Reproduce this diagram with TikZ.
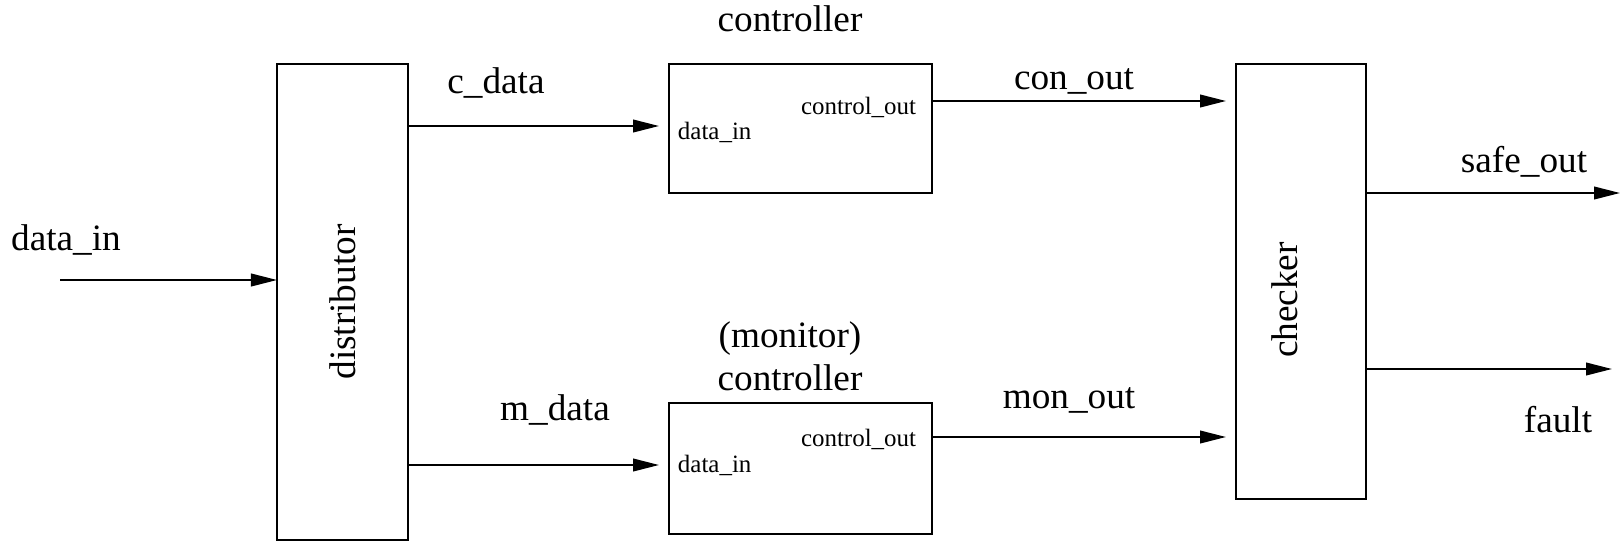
\documentclass[tikz,border=0pt]{standalone}
\usepackage{fontspec}
\newfontfamily\timesfam{Liberation Serif}
\usetikzlibrary{arrows.meta}
\begin{document}
\begin{tikzpicture}[x=0.02cm,y=-0.02cm,
  line width=1.1pt,
  block/.style={draw, line width=1.1pt, inner sep=0pt, outer sep=0pt},
  big/.style={font=\timesfam\fontsize{21.2pt}{24.4pt}\selectfont, inner sep=0pt},
  port/.style={font=\timesfam\fontsize{14.2pt}{17pt}\selectfont, inner sep=0pt},
  sig/.style={-{Triangle[length=14.8pt,width=7.2pt]}}]
\useasboundingbox (0,0) rectangle (1620,542);

% blocks
\node[block, minimum width=131*0.02cm, minimum height=476*0.02cm] (dist) at (342.5,302) {};
\node[block, minimum width=263*0.02cm, minimum height=129*0.02cm] (ctrl) at (800.5,128.5) {};
\node[block, minimum width=263*0.02cm, minimum height=131*0.02cm] (mon) at (800.5,468.5) {};
\node[block, minimum width=130*0.02cm, minimum height=435*0.02cm] (chk) at (1301,281.5) {};

% block names
\node[big, rotate=90] (distname) at (dist.center) {distributor};
\node[big, rotate=90] (chkname) at (1285,300) {checker};
\node[big] (ctrlname) at (790,19) {controller};
\node[big, align=center] (monname) at (790,356) {(monitor)\\controller};

% port labels
\node[port, anchor=east] (ctrlout) at (917,107) {control\_out};
\node[port, anchor=west] (ctrlin) at (677,132) {data\_in};
\node[port, anchor=east] (monout) at (917,439) {control\_out};
\node[port, anchor=west] (monin) at (677,465) {data\_in};

% connector end points
\coordinate (src) at (60,280);
\coordinate (cin) at (659,126);
\coordinate (min) at (659,465);
\coordinate (cout) at (1226,101);
\coordinate (mout) at (1226,437);
\coordinate (safe) at (1620,193);
\coordinate (flt) at (1612,369);

% connectors
\draw[sig] (src) -- (src -| dist.west);
\draw[sig] (cin -| dist.east) -- (cin);
\draw[sig] (min -| dist.east) -- (min);
\draw[sig] (cout -| ctrl.east) -- (cout);
\draw[sig] (mout -| mon.east) -- (mout);
\draw[sig] (safe -| chk.east) -- (safe);
\draw[sig] (flt -| chk.east) -- (flt);

% signal names
\node[big] (lin) at (66,240) {data\_in};
\node[big] (lc) at (496,83) {c\_data};
\node[big] (lm) at (555,410) {m\_data};
\node[big] (lco) at (1074,81) {con\_out};
\node[big] (lmo) at (1069,400) {mon\_out};
\node[big] (lsafe) at (1524,162) {safe\_out};
\node[big] (lfault) at (1558,420) {fault};
\end{tikzpicture}
\end{document}
